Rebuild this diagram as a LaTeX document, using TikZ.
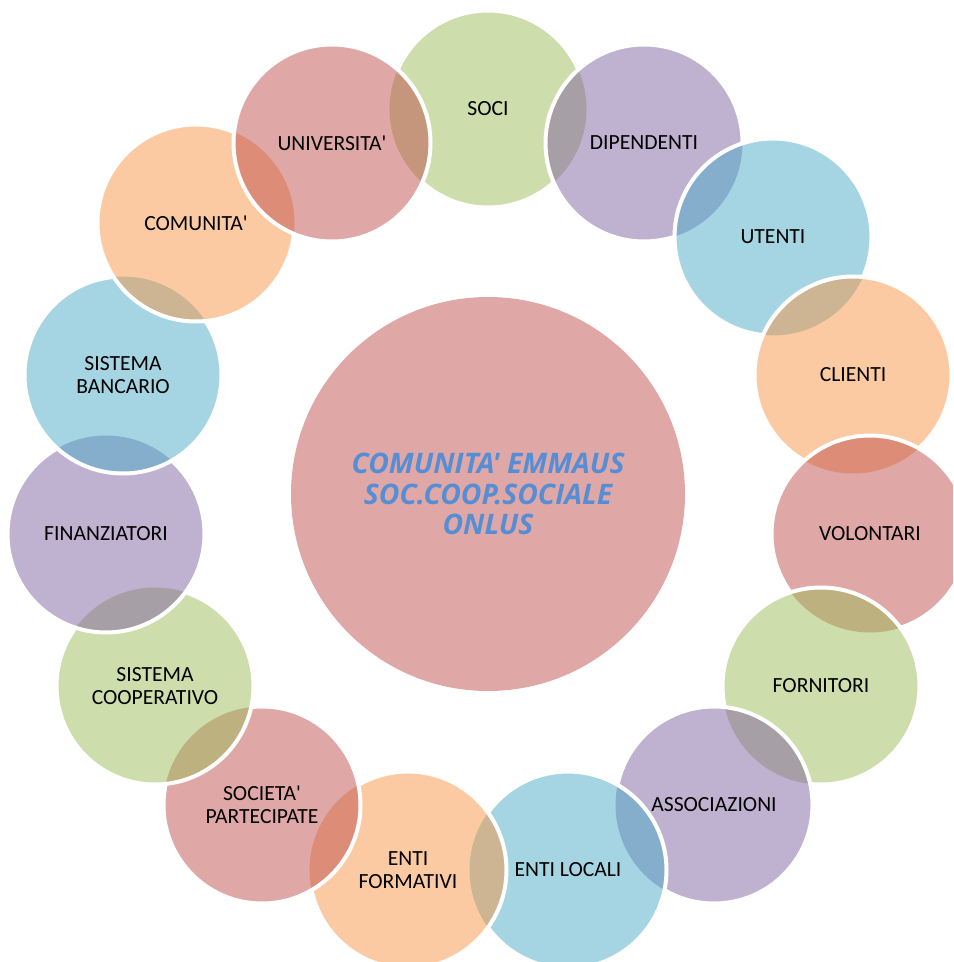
\documentclass[tikz,border=0pt]{standalone}
\usepackage{fontspec}
\setmainfont{Carlito}
\newfontfamily\lblfont{Carlito}
\newfontfamily\hubfont{Open Sans}
\definecolor{cred}{HTML}{C0504D}
\definecolor{cgreen}{HTML}{9BBB59}
\definecolor{cpurple}{HTML}{8064A2}
\definecolor{cblue}{HTML}{4BACC6}
\definecolor{corange}{HTML}{F79646}
\definecolor{ctext}{HTML}{558ED5}
\tikzset{
  bub/.style={circle, inner sep=0pt, minimum size=147.75pt, fill opacity=0.5, text opacity=1,
    align=center, text=black, font=\lblfont\fontsize{16.2}{17.4}\selectfont},
  rim/.style={draw=white, line width=3pt},
  hubstyle/.style={circle, inner sep=0pt, minimum size=295.5pt, fill=cred, fill opacity=0.5,
    text opacity=1, text=ctext, align=center,
    font=\hubfont\bfseries\itshape\fontsize{21.2}{22.9}\selectfont},
}
% stroke of #1, hidden inside circle #2
\newcommand\rimcut[2]{%
  \begin{scope}
    \clip (-20,-20) -- (-20,990) -- (980,990) -- (980,-20) -- cycle
      (#2.center) ++(98.5,0) arc[start angle=0,end angle=360,radius=98.5];
    \draw[rim] (#1.center) circle[radius=98.5];
  \end{scope}}
\begin{document}
\begin{tikzpicture}[x=0.75pt,y=-0.75pt]
\useasboundingbox (0,0) rectangle (953,962);
\clip (0,0) rectangle (953,962);
\node[hubstyle] (hub) at (488,494) {COMUNITA' EMMAUS\\SOC.COOP.SOCIALE\\ONLUS};
\node[bub, fill=cgreen]  (c1)  at (488,109) {SOCI};
\node[bub, fill=cpurple] (c2)  at (644,143) {DIPENDENTI};
\node[bub, fill=cblue]   (c3)  at (773,237) {UTENTI};
\node[bub, fill=corange] (c4)  at (853,375) {CLIENTI};
\node[bub, fill=cred]    (c5)  at (870,534) {VOLONTARI};
\node[bub, fill=cgreen]  (c6)  at (821,686) {FORNITORI};
\node[bub, fill=cpurple] (c7)  at (714,805) {ASSOCIAZIONI};
\node[bub, fill=cblue]   (c8)  at (568,870) {ENTI LOCALI};
\node[bub, fill=corange] (c9)  at (408,870) {ENTI\\FORMATIVI};
\node[bub, fill=cred]    (c10) at (262,805) {SOCIETA'\\PARTECIPATE};
\node[bub, fill=cgreen]  (c11) at (155,686) {SISTEMA\\COOPERATIVO};
\node[bub, fill=cpurple] (c12) at (106,534) {FINANZIATORI};
\node[bub, fill=cblue]   (c13) at (123,375) {SISTEMA\\BANCARIO};
\node[bub, fill=corange] (c14) at (196,223) {COMUNITA'};
\node[bub, fill=cred]    (c15) at (332,143) {UNIVERSITA'};
% white rims
\begin{scope}
  \clip (-20,-20) -- (-20,990) -- (980,990) -- (980,-20) -- cycle
    (c2.center) ++(98.5,0) arc[start angle=0,end angle=360,radius=98.5]
    (c15.center) ++(98.5,0) arc[start angle=0,end angle=360,radius=98.5];
  \draw[rim] (c1.center) circle[radius=98.5];
\end{scope}
\rimcut{c2}{c3}
\rimcut{c3}{c4}
\rimcut{c4}{c5}
\rimcut{c5}{c6}
\rimcut{c6}{c7}
\rimcut{c7}{c8}
\rimcut{c8}{c9}
\rimcut{c9}{c10}
\rimcut{c10}{c11}
\rimcut{c11}{c12}
\rimcut{c12}{c13}
\rimcut{c13}{c14}
\rimcut{c14}{c15}
\draw[rim] (c15.center) circle[radius=98.5];
\end{tikzpicture}
\end{document}
